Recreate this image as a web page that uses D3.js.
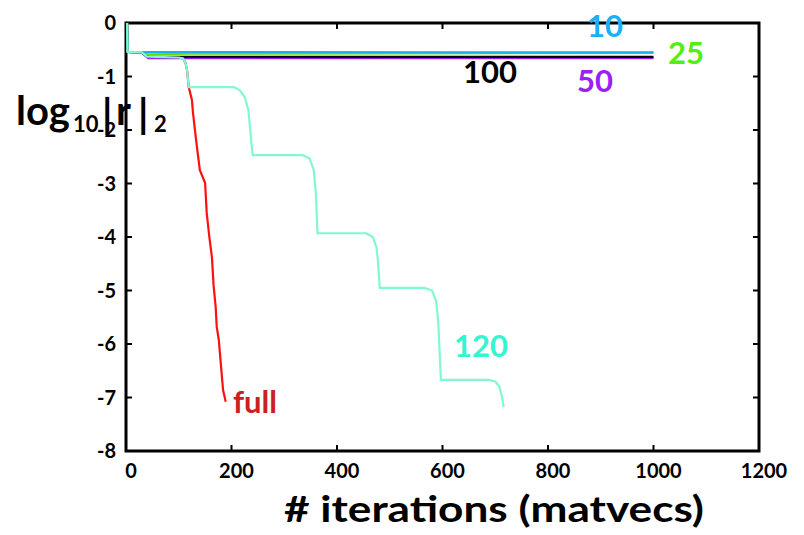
<!DOCTYPE html>
<html>
<head>
<meta charset="utf-8">
<script src="https://cdn.jsdelivr.net/npm/d3@7"></script>
<style>
  body { margin: 0; background: #fff; }
  svg { display: block; }
  text { font-family: Lato, "Noto Sans", sans-serif; }
</style>
</head>
<body>
<svg width="804" height="535"></svg>
<script>
// axis ranges and ticks
const xTicks = [0, 200, 400, 600, 800, 1000, 1200];
const yTicks = [0, -1, -2, -3, -4, -5, -6, -7, -8];

// residual histories: [iterations, log10 |r|2]
const curveFull = [[2, 0], [3, -0.54], [30, -0.55], [40, -0.63], [100, -0.645], [108, -0.66], [113, -0.75],
  [116, -0.9], [119, -1.2], [125, -1.44], [127, -1.68], [133, -2.2], [140, -2.75], [150, -2.99], [153, -3.55],
  [158, -4.0], [163, -4.39], [166, -4.9], [170, -5.31], [172, -5.68], [176, -5.93], [180, -6.4], [184, -6.86],
  [186, -6.95], [189, -7.08]];
const curve120 = [[2, 0], [3, -0.54], [30, -0.55], [40, -0.63], [100, -0.645], [108, -0.66], [113, -0.75],
  [116, -0.9], [119, -1.2], [205, -1.2], [215, -1.25], [225, -1.38], [232, -1.63], [240, -2.47],
  [335, -2.47], [348, -2.53], [356, -2.75], [360, -3.2], [363, -3.93],
  [455, -3.93], [468, -4.0], [475, -4.2], [478, -4.5], [481, -4.95],
  [565, -4.95], [580, -5.0], [588, -5.2], [592, -5.6], [597, -6.67],
  [688, -6.67], [700, -6.7], [708, -6.8], [713, -7.0], [716, -7.18]];
const curve100 = [[2, 0], [3, -0.54], [30, -0.55], [42, -0.63], [1000, -0.635]];
const curve50 = [[2, 0], [3, -0.54], [30, -0.56], [42, -0.655], [1000, -0.655]];
const curve25 = [[2, 0], [3, -0.54], [30, -0.55], [40, -0.585], [120, -0.575], [1000, -0.56]];
const curve10 = [[2, 0], [3, -0.54], [1000, -0.55]];

const series = [
  { name: 'full', data: curveFull, line: '#ff1010', label: '#cc2020', lx: 233, ly: 413, anchor: 'start' },
  { name: '50', data: curve50, line: '#9b20f5', label: '#9b20f5', lx: 595, ly: 92, anchor: 'middle' },
  { name: '100', data: curve100, line: '#000000', label: '#000000', lx: 490, ly: 83, anchor: 'middle' },
  { name: '25', data: curve25, line: '#66dd00', label: '#55ee11', lx: 686, ly: 64, anchor: 'middle' },
  { name: '10', data: curve10, line: '#1aaff0', label: '#1ab0f5', lx: 605, ly: 37, anchor: 'middle' },
  { name: '120', data: curve120, line: '#80f8d4', label: '#33f5d0', lx: 481, ly: 357, anchor: 'middle' }
];

const svg = d3.select('svg');
const plotLeft = 126, plotRight = 759, plotTop = 23, plotBottom = 451;

const x = d3.scaleLinear().domain([0, 1200]).range([plotLeft, plotRight]);
const y = d3.scaleLinear().domain([-8, 0]).range([plotBottom, plotTop]);

// frame with inward ticks
svg.append('rect')
  .attr('x', plotLeft).attr('y', plotTop)
  .attr('width', plotRight - plotLeft).attr('height', plotBottom - plotTop)
  .attr('fill', 'none').attr('stroke', '#000').attr('stroke-width', 3);

const tickLen = 6;
svg.selectAll('.xtick-b').data(xTicks.slice(1, -1)).enter().append('line')
  .attr('x1', d => x(d)).attr('x2', d => x(d))
  .attr('y1', plotBottom).attr('y2', plotBottom - tickLen)
  .attr('stroke', '#000').attr('stroke-width', 2);
svg.selectAll('.xtick-t').data(xTicks.slice(1, -1)).enter().append('line')
  .attr('x1', d => x(d)).attr('x2', d => x(d))
  .attr('y1', plotTop).attr('y2', plotTop + tickLen)
  .attr('stroke', '#000').attr('stroke-width', 2);
svg.selectAll('.ytick-l').data(yTicks.slice(1, -1)).enter().append('line')
  .attr('x1', plotLeft).attr('x2', plotLeft + tickLen)
  .attr('y1', d => y(d)).attr('y2', d => y(d))
  .attr('stroke', '#000').attr('stroke-width', 2);
svg.selectAll('.ytick-r').data(yTicks.slice(1, -1)).enter().append('line')
  .attr('x1', plotRight).attr('x2', plotRight - tickLen)
  .attr('y1', d => y(d)).attr('y2', d => y(d))
  .attr('stroke', '#000').attr('stroke-width', 2);

// curves, drawn over the frame
const line = d3.line().x(d => x(d[0])).y(d => y(d[1]));
svg.selectAll('.curve')
  .data(series).enter().append('path')
  .attr('class', 'curve')
  .attr('d', d => line(d.data))
  .attr('fill', 'none')
  .attr('stroke', d => d.line)
  .attr('stroke-width', 2.2)
  .attr('stroke-linejoin', 'round');

// tick labels
svg.selectAll('.xlabel').data(xTicks).enter().append('text')
  .attr('x', d => x(d) + 5)
  .attr('y', 478)
  .attr('text-anchor', 'middle')
  .attr('font-size', 20)
  .attr('font-weight', 'bold')
  .text(d => d);

svg.selectAll('.ylabel').data(yTicks).enter().append('text')
  .attr('x', 116)
  .attr('y', d => y(d) + 7)
  .attr('text-anchor', 'end')
  .attr('font-size', 20)
  .attr('font-weight', 'bold')
  .text(d => d);

// series labels
svg.selectAll('.slabel').data(series).enter().append('text')
  .attr('x', d => d.lx)
  .attr('y', d => d.ly)
  .attr('text-anchor', d => d.anchor)
  .attr('font-size', 31)
  .attr('font-weight', 'bold')
  .attr('fill', d => d.label)
  .text(d => d.name);

// axis titles
svg.append('text')
  .attr('x', 494).attr('y', 522)
  .attr('text-anchor', 'middle')
  .attr('font-size', 37)
  .attr('font-weight', 'bold')
  .attr('textLength', 420)
  .attr('lengthAdjust', 'spacingAndGlyphs')
  .text('# iterations (matvecs)');

const yt = svg.append('g').attr('font-weight', 'bold');
yt.append('text').attr('x', 16).attr('y', 125).attr('font-size', 40).text('log');
yt.append('text').attr('x', 73).attr('y', 132).attr('font-size', 22).text('10');
yt.append('text').attr('x', 102).attr('y', 128).attr('font-size', 40).text('|');
yt.append('text').attr('x', 116).attr('y', 125).attr('font-size', 40).text('r');
yt.append('text').attr('x', 138).attr('y', 128).attr('font-size', 40).text('|');
yt.append('text').attr('x', 154).attr('y', 132).attr('font-size', 22).text('2');
</script>
</body>
</html>
